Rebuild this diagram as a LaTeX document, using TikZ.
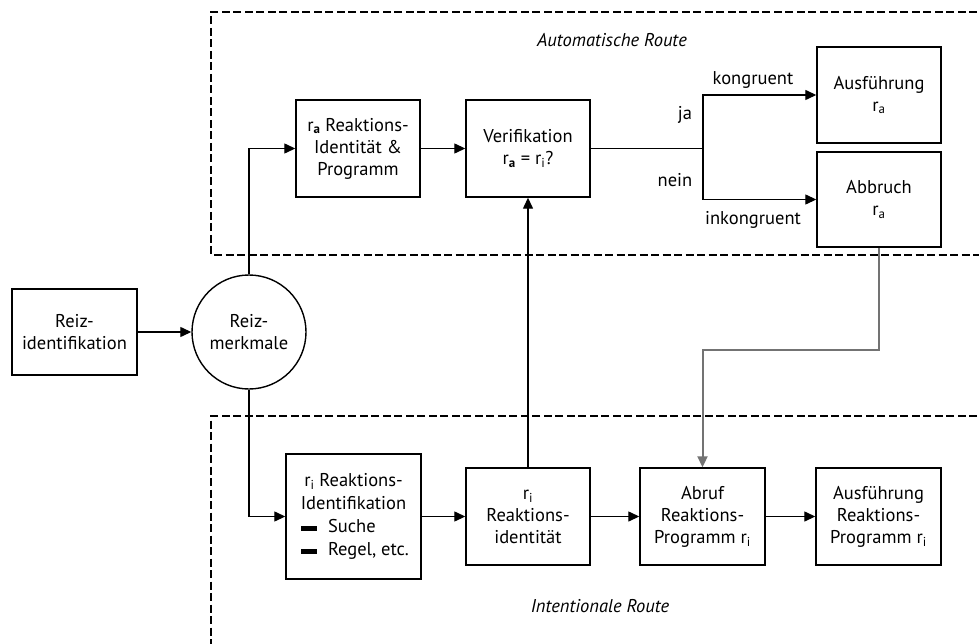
\documentclass[tikz,border=0pt]{standalone}
\usepackage{fontspec}
\setmainfont{PT Sans}
\usetikzlibrary{arrows.meta}
\newcommand{\sub}[1]{\textsubscript{#1}}
\begin{document}
\begin{tikzpicture}[x=1pt,y=-1pt,
  every node/.style={font=\fontsize{18.5}{22}\selectfont},
  box/.style={draw,line width=1.4pt,align=center,inner sep=2pt},
  conn/.style={line width=1.3pt,-{Triangle[length=11pt,width=10pt]}},
  line/.style={line width=1.3pt},
  route/.style={draw,line width=1.1pt,dash pattern=on 8pt off 3.5pt},
  lbl/.style={font=\fontsize{18.5}{22}\selectfont}]
\useasboundingbox (0,0) rectangle (979,644);
\fill[white] (0,0) rectangle (979,644);

% dashed route frames
\draw[route] (1000,12) -- (211,12) -- (211,255) -- (1000,255);
\draw[route] (1000,416) -- (211,416) -- (211,660);
\node[font=\itshape\fontsize{18.5}{22}\selectfont] (autoroute) at (612,40) {Automatische Route};
\node[font=\itshape\fontsize{18.5}{22}\selectfont] (introute) at (600,606) {Intentionale Route};

% nodes
\node[box,minimum width=125pt,minimum height=86pt] (reizid) at (74.5,332) {Reiz-\\identifikation};
\node[box,circle,minimum size=114pt] (merk) at (249,332) {Reiz-\\merkmale};
\node[box,minimum width=124pt,minimum height=97pt] (ra) at (358,148.5) {r\sub{\textbf{a}} Reaktions-\\Identität \&\\Programm};
\node[box,minimum width=124pt,minimum height=97pt] (verif) at (528,148.5) {Verifikation\\r\sub{\textbf{a}} = r\sub{i}?};
\node[box,minimum width=124pt,minimum height=96pt] (ausf) at (879,95) {Ausführung\\r\sub{a}};
\node[box,minimum width=124pt,minimum height=95pt] (abbr) at (879,199.5) {Abbruch\\r\sub{a}};
\node[box,minimum width=135pt,minimum height=125pt,font=\fontsize{18.5}{23}\selectfont] (riid) at (353.5,516.5) {%
  r\sub{i} Reaktions-\\Identifikation\\
  \makebox[105pt][l]{\rule[2pt]{16pt}{5pt}\hspace{11pt}Suche}\\
  \makebox[105pt][l]{\rule[2pt]{16pt}{5pt}\hspace{11pt}Regel, etc.}};
\node[box,minimum width=124pt,minimum height=97pt] (rident) at (528,516.5) {r\sub{i}\\Reaktions-\\identität};
\node[box,minimum width=125pt,minimum height=97pt] (abruf) at (702.5,516.5) {Abruf\\Reaktions-\\Programm r\sub{i}};
\node[box,minimum width=125pt,minimum height=97pt] (ausfr) at (878.5,516.5) {Ausführung\\Reaktions-\\Programm r\sub{i}};

% branch points
\coordinate (split) at (703,148.5);
\coordinate (drop) at (879,350);
\coordinate (turn) at (702.5,350);

% connectors
\draw[conn] (reizid.east) -- (merk.west);
\draw[conn] (merk.north) |- (ra.west);
\draw[conn] (merk.south) |- (riid.west);
\draw[conn] (ra.east) -- (verif.west);
\draw[line] (verif.east) -- (split);
\draw[conn] (split) |- (ausf.west);
\draw[conn] (split) |- (abbr.west);
\draw[conn] (rident.north) -- (verif.south);
\draw[conn] (riid.east) -- (rident.west);
\draw[conn] (rident.east) -- (abruf.west);
\draw[conn] (abruf.east) -- (ausfr.west);
\draw[conn,line width=2pt,draw=black!55] (abbr.south) -- (drop) -- (turn) -- (abruf.north);

% branch labels
\node (ja) at (685,115) {ja};
\node (nein) at (675,180) {nein};
\node (kong) at (753,80) {kongruent};
\node (inkong) at (753,220) {inkongruent};
\end{tikzpicture}
\end{document}
